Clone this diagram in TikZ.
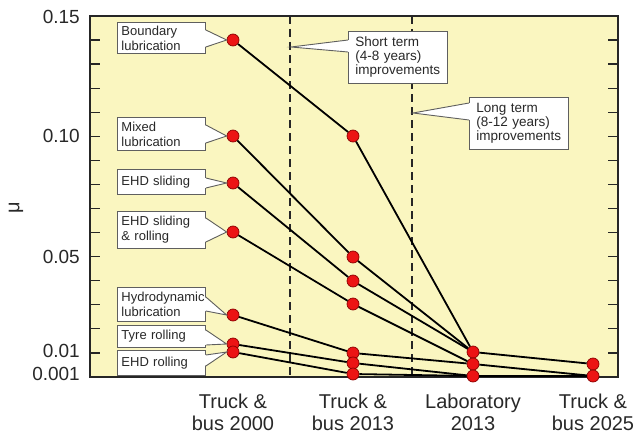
\documentclass[tikz,border=0pt]{standalone}
\usepackage{fontspec}
\setmainfont{Liberation Sans}
\usetikzlibrary{calc}
\definecolor{bgyel}{RGB}{250,246,192}
\definecolor{dotred}{RGB}{236,20,20}
\definecolor{dotedge}{RGB}{140,0,0}
\definecolor{boxedge}{RGB}{95,95,95}
\definecolor{txt}{RGB}{40,40,40}
\newcommand\rcall[4]{%
  \fill[white] ([xshift=-1.2pt,yshift=-#2pt]#1.north east) -- (#4) -- ([xshift=-1.2pt,yshift=-#3pt]#1.north east) -- cycle;
  \draw[boxedge,line width=0.9pt,line join=miter] ([yshift=-#2pt]#1.north east) -- (#4) -- ([yshift=-#3pt]#1.north east);}
\newcommand\lcall[4]{%
  \fill[white] ([xshift=1.2pt,yshift=-#2pt]#1.north west) -- (#4) -- ([xshift=1.2pt,yshift=-#3pt]#1.north west) -- cycle;
  \draw[boxedge,line width=0.9pt,line join=miter] ([yshift=-#2pt]#1.north west) -- (#4) -- ([yshift=-#3pt]#1.north west);}
\begin{document}
\begin{tikzpicture}[x=1pt,y=-1pt,
  dot/.style={circle,fill=dotred,draw=dotedge,line width=0.7pt,minimum size=12pt,inner sep=0pt},
  conn/.style={line width=1.8pt,black},
  cbox/.style={draw=boxedge,fill=white,line width=0.9pt,anchor=north west,align=left,
    font=\fontsize{13}{15}\selectfont,text=txt,inner xsep=4pt,inner ysep=0pt,
    text width=80pt,minimum width=88pt},
  tbox/.style={cbox,inner xsep=7pt,text width=85pt,minimum width=99pt,font=\fontsize{13.5}{14}\selectfont},
  ticklab/.style={anchor=east,font=\fontsize{19}{21}\selectfont,text=txt,inner sep=0pt},
  catlab/.style={anchor=north,align=center,font=\fontsize{20}{21.5}\selectfont,text=txt,inner sep=0pt},
  vdash/.style={dash pattern=on 8pt off 5pt,line width=1.4pt,black!85}
]
\useasboundingbox (0,0) rectangle (637,436);
% plot area
\fill[bgyel] (90,16) rectangle (618,377);
\foreach \k in {1,...,14}{
  \draw[line width=1.2pt,black!85] (90,377-24.07*\k) -- (100,377-24.07*\k);
  \draw[line width=1.2pt,black!85] (608,377-24.07*\k) -- (618,377-24.07*\k);
}
\coordinate (d1t) at (290,16); \coordinate (d1b) at (290,377);
\coordinate (d2t) at (412,16); \coordinate (d2b) at (412,377);
\draw[vdash] (d1t) -- (d1b);
\draw[vdash] (d2t) -- (d2b);
\draw[line width=1.3pt,black!85] (90,16) rectangle (618,377);
% axis labels
\node[ticklab] (y15) at (80,17) {0.15};
\node[ticklab] (y10) at (80,136) {0.10};
\node[ticklab] (y05) at (80,257) {0.05};
\node[ticklab] (y01) at (80,351) {0.01};
\node[ticklab] (y001) at (80,374) {0.001};
\node[rotate=90,font=\fontsize{20}{22}\selectfont,text=txt] (mu) at (16,208) {μ};
\node[catlab] (c2000) at (233,394) {Truck \&\\bus 2000};
\node[catlab] (c2013) at (353,394) {Truck \&\\bus 2013};
\node[catlab] (clab) at (473,394) {Laboratory\\2013};
\node[catlab] (c2025) at (593,394) {Truck \&\\bus 2025};
% data points
\node[dot] (a1) at (233,40) {};
\node[dot] (a2) at (233,136) {};
\node[dot] (a3) at (233,183) {};
\node[dot] (a4) at (233,232) {};
\node[dot] (a5) at (233,315) {};
\node[dot] (a6) at (233,344) {};
\node[dot] (a7) at (233,352) {};
\node[dot] (b1) at (353,136) {};
\node[dot] (b2) at (353,257) {};
\node[dot] (b3) at (353,281) {};
\node[dot] (b4) at (353,304) {};
\node[dot] (b5) at (353,353) {};
\node[dot] (b6) at (353,363) {};
\node[dot] (b7) at (353,374) {};
\node[dot] (l1) at (473,352) {};
\node[dot] (l2) at (473,364) {};
\node[dot] (l3) at (473,376) {};
\node[dot] (f1) at (593,364) {};
\node[dot] (f2) at (593,376) {};
% connectors
\draw[conn] (a1) -- (b1) -- (l1);
\draw[conn] (a2) -- (b2) -- (l1);
\draw[conn] (a3) -- (b3) -- (l1);
\draw[conn] (a4) -- (b4) -- (l2);
\draw[conn] (a5) -- (b5) -- (l2);
\draw[conn] (a6) -- (b6) -- (l3);
\draw[conn] (a7) -- (b7) -- (l3);
\draw[conn] (l1) -- (f1);
\draw[conn] (l2) -- (f2);
\draw[conn] (l3) -- (f2);
% callouts
\node[cbox,minimum height=31pt] (k1) at (117,22) {Boundary\\lubrication};
\rcall{k1}{8}{25}{a1.west}
\node[cbox,minimum height=33pt] (k2) at (117,117) {Mixed\\lubrication};
\rcall{k2}{8}{26}{a2.west}
\node[cbox,minimum height=25pt] (k3) at (117,169) {EHD sliding};
\rcall{k3}{9}{19}{a3.west}
\node[cbox,minimum height=37pt] (k4) at (117,211) {EHD sliding\\\& rolling};
\rcall{k4}{7}{31}{a4.west}
\node[cbox,minimum height=34pt] (k5) at (117,287) {Hydrodynamic\\lubrication};
\rcall{k5}{10}{24}{a5.west}
\node[cbox,minimum height=22pt] (k6) at (117,325) {Tyre rolling};
\rcall{k6}{5}{20}{a6.west}
\node[cbox,minimum height=25pt] (k7) at (117,350) {EHD rolling};
\rcall{k7}{5}{16}{a7.west}
\coordinate (stip) at (291,47);
\node[tbox,minimum height=52pt] (st) at (348,31) {Short term\\(4-8 years)\\improvements};
\lcall{st}{9}{21}{stip}
\coordinate (ltip) at (413,113);
\node[tbox,minimum height=52pt] (lt) at (469,97) {Long term\\(8-12 years)\\improvements};
\lcall{lt}{6}{23}{ltip}
\end{tikzpicture}
\end{document}
